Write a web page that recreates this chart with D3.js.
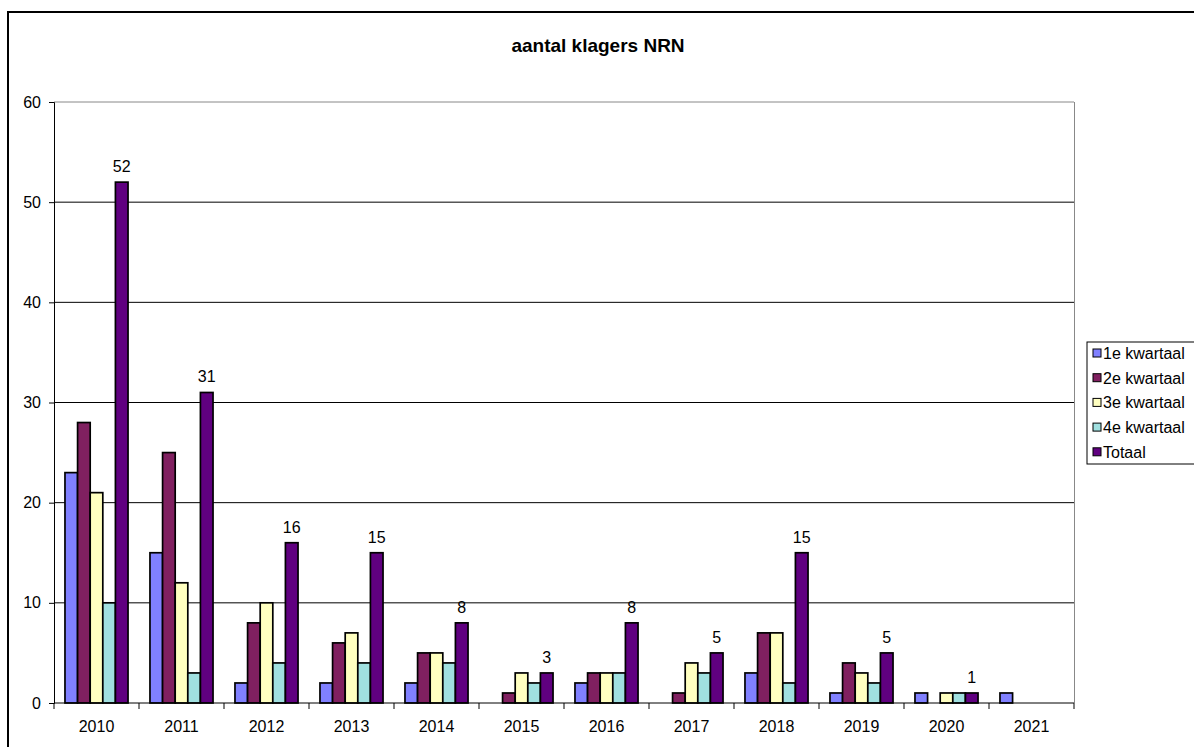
<!DOCTYPE html>
<html>
<head>
<meta charset="utf-8">
<script src="https://cdn.jsdelivr.net/npm/d3@7"></script>
<style>
  body { margin: 0; background: #fff; }
  svg { display: block; font-family: 'Liberation Sans', Arial, sans-serif; }
</style>
</head>
<body>
<script>
const years = ['2010', '2011', '2012', '2013', '2014', '2015', '2016', '2017', '2018', '2019', '2020', '2021']
const seriesNames = ['1e kwartaal', '2e kwartaal', '3e kwartaal', '4e kwartaal', 'Totaal']
const q1 = [23, 15, 2, 2, 2, 0, 2, 0, 3, 1, 1, 1]
const q2 = [28, 25, 8, 6, 5, 1, 3, 1, 7, 4, 0, 0]
const q3 = [21, 12, 10, 7, 5, 3, 3, 4, 7, 3, 1, 0]
const q4 = [10, 3, 4, 4, 4, 2, 3, 3, 2, 2, 1, 0]
const totaal = [52, 31, 16, 15, 8, 3, 8, 5, 15, 5, 1, 0]
const yTicks = [0, 10, 20, 30, 40, 50, 60]
const colors = ['#8080ff', '#802060', '#ffffc0', '#a0e0e0', '#600080']

const series = [q1, q2, q3, q4, totaal]

const width = 1194
const height = 747
const margin = { top: 102, right: 120, bottom: 44, left: 54 }

const svg = d3.select('body').append('svg')
  .attr('width', width)
  .attr('height', height)

// outer chart frame
svg.append('rect')
  .attr('x', 8).attr('y', 12)
  .attr('width', width + 20).attr('height', height + 20)
  .attr('fill', 'none').attr('stroke', '#000').attr('stroke-width', 2)

svg.append('text')
  .attr('x', 598).attr('y', 52)
  .attr('text-anchor', 'middle')
  .style('font-size', '19px').style('font-weight', 'bold')
  .text('aantal klagers NRN')

const x = d3.scaleBand().domain(years).range([margin.left, 1074])
const xInner = d3.scaleBand().domain(d3.range(series.length))
  .range([0, x.bandwidth()]).paddingOuter(0.87).paddingInner(0)
const y = d3.scaleLinear().domain([0, 60]).range([703, margin.top])

const g = svg.append('g')

// gridlines
g.selectAll('line.grid')
  .data(yTicks.filter(d => d > 0))
  .enter().append('line')
  .attr('x1', margin.left).attr('x2', 1074)
  .attr('y1', d => y(d)).attr('y2', d => y(d))
  .attr('stroke', d => d === 60 ? '#888' : '#000')
  .attr('stroke-width', 1)

// right plot border
g.append('line')
  .attr('x1', 1074.5).attr('x2', 1074.5)
  .attr('y1', y(60)).attr('y2', y(0))
  .attr('stroke', '#888')

// bars
series.forEach((vals, si) => {
  g.selectAll('rect.s' + si)
    .data(vals.map((v, i) => ({ v, year: years[i] })).filter(d => d.v > 0))
    .enter().append('rect')
    .attr('x', d => x(d.year) + xInner(si))
    .attr('width', xInner.bandwidth())
    .attr('y', d => y(d.v))
    .attr('height', d => y(0) - y(d.v))
    .attr('fill', colors[si])
    .attr('stroke', '#000')
    .attr('stroke-width', 1.7)
})

// labels above Totaal
g.selectAll('text.lbl')
  .data(totaal.map((v, i) => ({ v, year: years[i] })).filter(d => d.v > 0))
  .enter().append('text')
  .attr('x', d => x(d.year) + xInner(4) + xInner.bandwidth() / 2)
  .attr('y', d => y(d.v) - 10)
  .attr('text-anchor', 'middle')
  .style('font-size', '16px')
  .text(d => d.v)

// y axis
const yAxis = g.append('g')
  .attr('transform', 'translate(' + margin.left + ',0)')
  .call(d3.axisLeft(y).tickValues(yTicks).tickSize(5).tickPadding(8))
yAxis.select('.domain').attr('stroke', '#000')
yAxis.selectAll('text').style('font-size', '16px').attr('fill', '#000')

// x axis
const xAxisG = g.append('g').attr('transform', 'translate(0,' + y(0) + ')')
xAxisG.append('line')
  .attr('x1', margin.left).attr('x2', 1074)
  .attr('stroke', '#000')
xAxisG.selectAll('line.tick')
  .data(years.map(d => x(d)).concat([1074]))
  .enter().append('line')
  .attr('x1', d => d).attr('x2', d => d)
  .attr('y1', 0).attr('y2', 6)
  .attr('stroke', '#000')
xAxisG.selectAll('text')
  .data(years)
  .enter().append('text')
  .attr('x', d => x(d) + x.bandwidth() / 2)
  .attr('y', 29)
  .attr('text-anchor', 'middle')
  .style('font-size', '16px')
  .text(d => d)

// legend
const legend = svg.append('g').attr('transform', 'translate(1087,342)')
legend.append('rect')
  .attr('x', 0).attr('y', 0)
  .attr('width', 140).attr('height', 122)
  .attr('fill', '#fff').attr('stroke', '#000')
const items = legend.selectAll('g.item')
  .data(seriesNames)
  .enter().append('g')
  .attr('transform', (d, i) => 'translate(6,' + (11 + i * 24.7) + ')')
items.append('rect')
  .attr('x', 0).attr('y', -4)
  .attr('width', 8).attr('height', 8)
  .attr('fill', (d, i) => colors[i])
  .attr('stroke', '#000')
items.append('text')
  .attr('x', 10).attr('y', 6)
  .style('font-size', '16px')
  .text(d => d)
</script>
</body>
</html>
